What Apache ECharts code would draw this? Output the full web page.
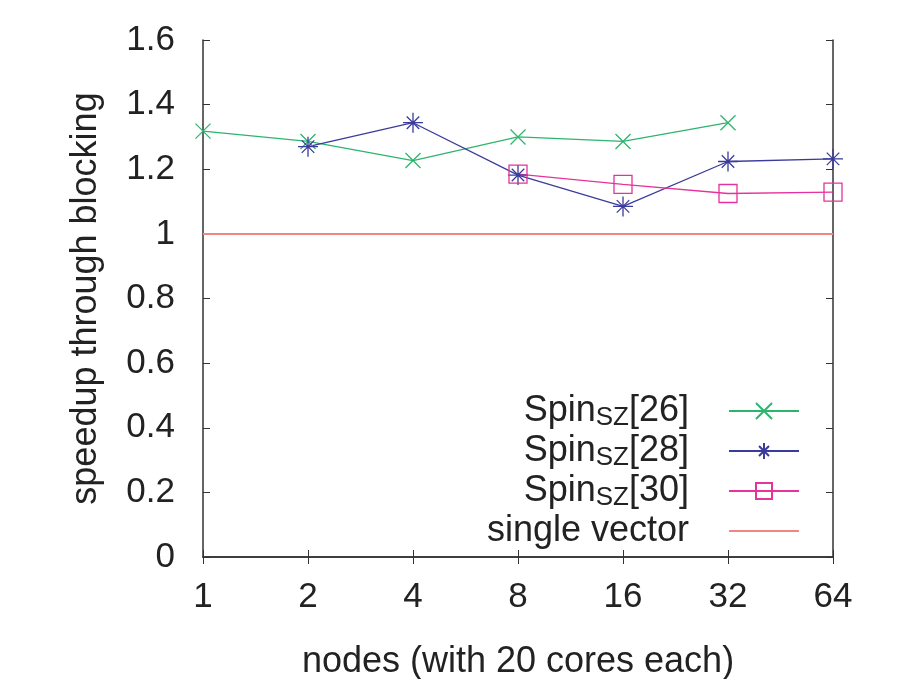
<html>
<head>
<meta charset="utf-8">
<style>
  html, body { margin: 0; padding: 0; background: #fff; }
  #chart1 { width: 918px; height: 679px; }
</style>
</head>
<body>
<div id="chart1"></div>
<script src="https://cdn.jsdelivr.net/npm/echarts@6/dist/echarts.min.js"></script>
<script>
  // nodes (x axis categories)
  let nodes = ['1', '2', '4', '8', '16', '32', '64'];
  let yTicks = [0, 0.2, 0.4, 0.6, 0.8, 1, 1.2, 1.4, 1.6];

  // speedup values
  let spin26 = [1.318, 1.286, 1.227, 1.300, 1.286, 1.344, null];
  let spin28 = [null, 1.270, 1.344, 1.182, 1.085, 1.224, 1.232];
  let spin30 = [null, null, null, 1.185, 1.153, 1.125, 1.129];
  let single = [1, 1, 1, 1, 1, 1, 1];

  let names = ['Spin26', 'Spin28', 'Spin30', 'single vector'];
  let colors = ['#2db56e', '#3b3b9c', '#e6329b', '#f08585'];

  let font = "'Liberation Sans', Arial, sans-serif";
  let textColor = '#222';

  let crossSym = 'path://M0,0L10,10M0,10L10,0';
  let starSym = 'path://M8,0L8,16M0,8L16,8M3,3L13,13M3,13L13,3';
  let squareSym = 'path://M0,0H10V10H0Z';

  function lineSeries(name, data, color, symbol, size) {
    return {
      name: name,
      type: 'line',
      data: data,
      symbol: symbol,
      symbolSize: size,
      showSymbol: true,
      connectNulls: false,
      lineStyle: { color: color, width: 1.3 },
      itemStyle: { color: 'rgba(0,0,0,0)', borderColor: color, borderWidth: 1.3 },
      emphasis: { disabled: true },
      z: 3
    };
  }

  let chart = echarts.init(document.getElementById('chart1'));

  let frameLine = { show: true, lineStyle: { color: '#333', width: 1.5 } };
  let tick = { show: true, inside: true, length: 7, lineStyle: { color: '#333', width: 1 } };

  let option = {
    animation: false,
    textStyle: { fontFamily: font },
    grid: { left: 203, right: 85, top: 40, bottom: 122, outerBoundsMode: 'none' },
    legend: {
      orient: 'vertical',
      align: 'right',
      right: 118,
      top: 393,
      padding: 0,
      itemWidth: 70,
      itemHeight: 20,
      itemGap: 2,
      data: [names[0], names[1], names[2], { name: names[3], itemStyle: { opacity: 0 } }],
      formatter: function (name) {
        if (name === 'single vector') {
          return '{a|single vector}';
        }
        return '{a|Spin}{s|SZ}{a|[' + name.slice(4) + ']}';
      },
      textStyle: {
        padding: [0, 35, 0, 0],
        rich: {
          a: { fontSize: 36, lineHeight: 40, color: textColor, fontFamily: font },
          s: { fontSize: 26, lineHeight: 24, color: textColor, fontFamily: font, verticalAlign: 'bottom' }
        }
      }
    },
    xAxis: [
      {
        type: 'category',
        data: nodes,
        boundaryGap: false,
        position: 'bottom',
        name: 'nodes (with 20 cores each)',
        nameLocation: 'middle',
        nameGap: 87,
        nameTextStyle: { fontSize: 36, color: textColor, fontFamily: font },
        axisLine: frameLine,
        axisTick: tick,
        axisLabel: { fontSize: 35, color: textColor, margin: 23, fontFamily: font },
        splitLine: { show: false }
      },
      {
        type: 'category',
        data: nodes,
        boundaryGap: false,
        position: 'top',
        axisLine: frameLine,
        axisTick: tick,
        axisLabel: { show: false },
        splitLine: { show: false }
      }
    ],
    yAxis: [
      {
        type: 'value',
        min: yTicks[0],
        max: yTicks[yTicks.length - 1],
        interval: 0.2,
        position: 'left',
        name: 'speedup through blocking',
        nameLocation: 'middle',
        nameGap: 99,
        nameTextStyle: { fontSize: 36, color: textColor, fontFamily: font },
        axisLine: frameLine,
        axisTick: tick,
        axisLabel: {
          fontSize: 35, color: textColor, margin: 28, fontFamily: font,
          formatter: function (v) { return String(Math.round(v * 10) / 10); }
        },
        splitLine: { show: false }
      },
      {
        type: 'value',
        min: yTicks[0],
        max: yTicks[yTicks.length - 1],
        interval: 0.2,
        position: 'right',
        axisLine: frameLine,
        axisTick: tick,
        axisLabel: { show: false },
        splitLine: { show: false }
      }
    ],
    series: [
      lineSeries(names[0], spin26, colors[0], crossSym, 15),
      lineSeries(names[1], spin28, colors[1], starSym, 20),
      lineSeries(names[2], spin30, colors[2], squareSym, 18),
      {
        name: names[3],
        type: 'line',
        data: single,
        symbol: 'none',
        lineStyle: { color: colors[3], width: 2 },
        itemStyle: { color: colors[3] },
        emphasis: { disabled: true },
        z: 2
      }
    ]
  };

  chart.setOption(option);
</script>
</body>
</html>
